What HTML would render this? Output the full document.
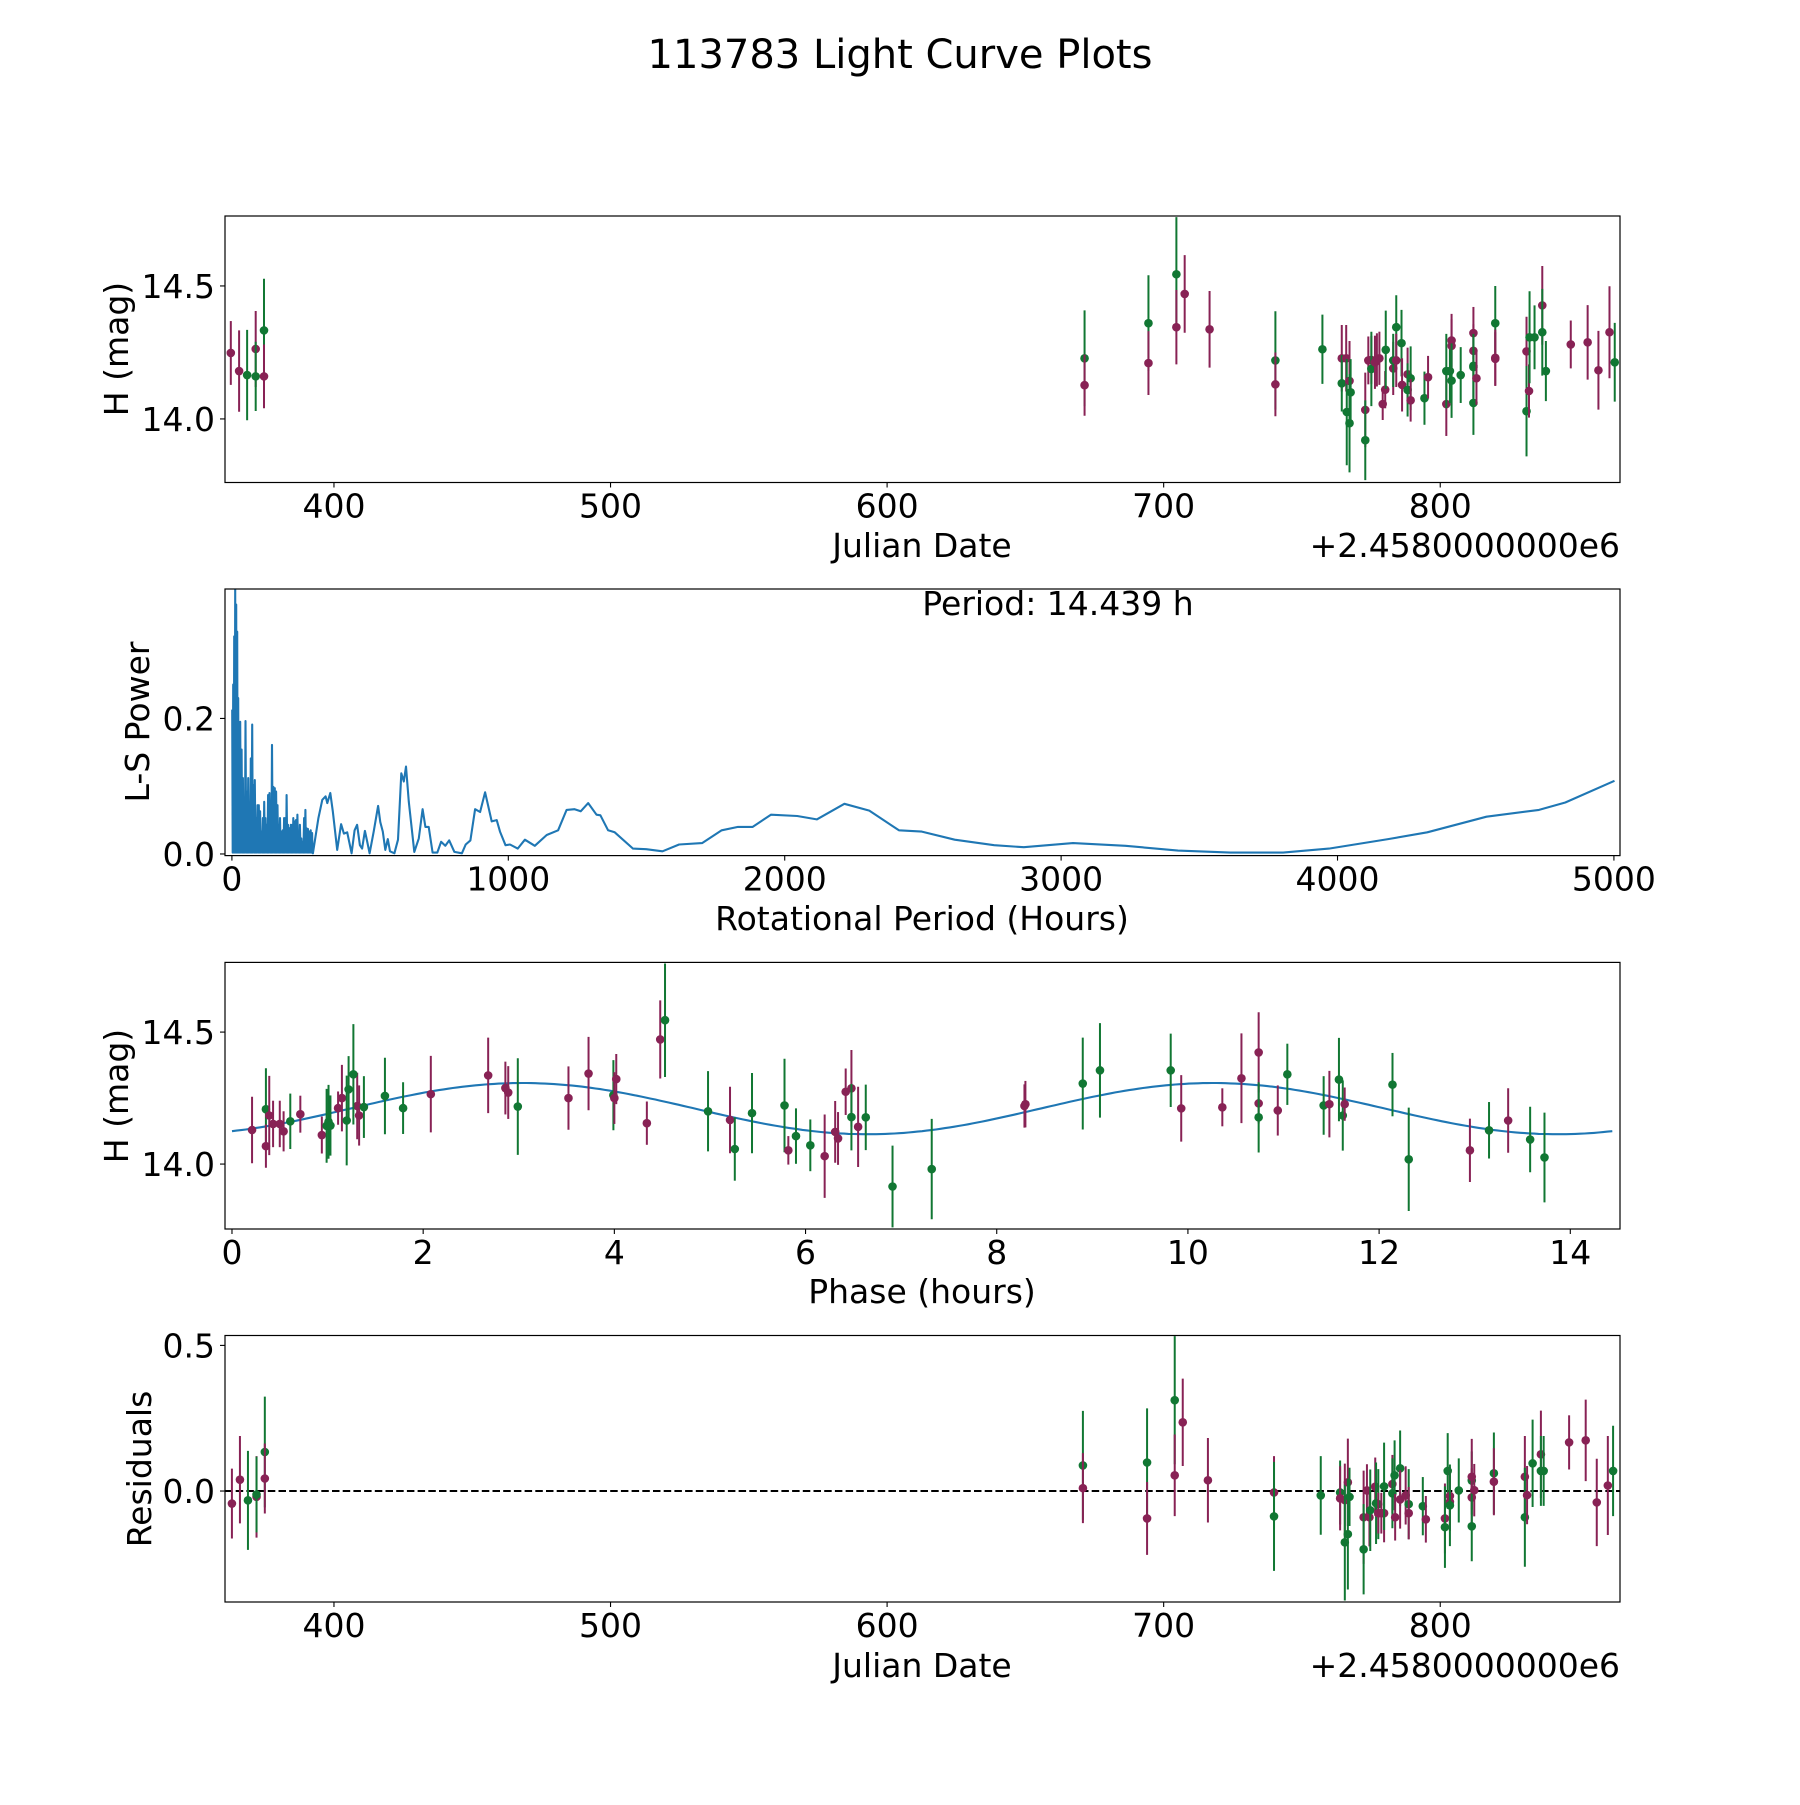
<!DOCTYPE html>
<html><head><meta charset="utf-8"><title>113783 Light Curve Plots</title>
<style>
html,body{margin:0;padding:0;background:#fff;}
svg text{font-family:"DejaVu Sans","Liberation Sans",sans-serif;fill:#000;}
</style></head>
<body>
<svg id="fig" xmlns="http://www.w3.org/2000/svg" width="1800" height="1800" viewBox="0 0 1800 1800">
<rect x="0" y="0" width="1800" height="1800" fill="#fff"/>
<text x="900" y="68" font-size="40" text-anchor="middle">113783 Light Curve Plots</text>
</svg>
<script>
// ---------- Panel 1: light curve (Julian Date) ----------
const lcDate = [362.7,365.7,368.6,371.7,371.7,374.7,374.7,671.4,671.4,694.5,694.5,704.6,704.6,707.6,716.6,740.4,740.4,757.4,764.4,764.4,766.0,766.2,767.2,767.2,767.6,772.9,772.9,774.0,775.1,775.1,776.4,777.1,778.0,779.2,780.1,780.3,783.0,783.0,784.1,784.1,786.0,786.2,788.2,788.2,789.3,789.3,794.3,795.6,802.2,802.2,803.5,804.1,804.1,804.1,807.4,812.0,812.0,812.0,812.0,812.0,813.1,819.9,819.9,819.9,831.2,831.2,832.1,832.3,834.1,836.9,836.9,838.2,847.2,853.3,857.2,861.2,863.1];
const lcMag = [14.248,14.18,14.165,14.263,14.16,14.333,14.16,14.228,14.127,14.36,14.21,14.544,14.345,14.47,14.337,14.22,14.13,14.262,14.228,14.134,14.228,14.026,14.143,13.984,14.1,14.034,13.92,14.22,14.222,14.188,14.213,14.222,14.228,14.056,14.11,14.26,14.19,14.22,14.345,14.22,14.285,14.128,14.168,14.109,14.153,14.07,14.078,14.157,14.056,14.18,14.18,14.295,14.275,14.144,14.165,14.323,14.256,14.2,14.195,14.06,14.153,14.36,14.23,14.226,14.254,14.029,14.105,14.307,14.307,14.427,14.326,14.18,14.28,14.288,14.183,14.326,14.213];
const lcErr = [0.12,0.153,0.17,0.143,0.13,0.194,0.12,0.18,0.115,0.18,0.12,0.215,0.14,0.146,0.144,0.185,0.12,0.13,0.125,0.106,0.125,0.2,0.15,0.185,0.125,0.14,0.15,0.09,0.09,0.14,0.1,0.1,0.1,0.06,0.07,0.147,0.1,0.1,0.12,0.1,0.125,0.1,0.1,0.1,0.12,0.08,0.1,0.08,0.12,0.14,0.12,0.1,0.1,0.14,0.105,0.098,0.1,0.12,0.12,0.12,0.1,0.14,0.106,0.1,0.13,0.17,0.1,0.173,0.12,0.148,0.163,0.113,0.09,0.14,0.148,0.173,0.148];
const lcBand = ["m","m","g","m","g","g","m","g","m","g","m","g","m","m","m","g","m","g","m","g","m","g","m","g","g","m","g","m","m","g","m","m","m","m","m","g","m","g","g","m","g","m","m","g","g","m","g","m","m","g","g","m","m","g","g","m","m","g","g","g","m","g","m","m","m","g","m","g","g","m","g","g","m","m","m","m","g"];

// ---------- Panel 2: Lomb-Scargle periodogram ----------
const lsSpikePeriod = [1.2,4.8,8.4,12,15.6,19.2,22.8,26.4,30,34.9,39.7,44.5,49.3,54.1,58.9,63.7,68.5,73.3,78.1,82.9,87.7,92.6,97.4,102,107,112,117,121,126,131,136,141,145,150,155,160,165,169,174,179,184,189,194,198,203,208,213,218,222,227,232,237,242,246,251,256,261,266,270,275,280,285,290];
const lsSpikePower = [0.213,0.25,0.321,0.391,0.368,0.328,0.23,0.161,0.195,0.154,0.112,0.082,0.196,0.092,0.112,0.053,0.141,0.191,0.102,0.109,0.053,0.072,0.072,0.063,0.033,0.053,0.077,0.053,0.043,0.087,0.09,0.063,0.161,0.099,0.097,0.092,0.072,0.043,0.053,0.033,0.035,0.053,0.053,0.087,0.043,0.038,0.043,0.043,0.053,0.048,0.05,0.058,0.033,0.043,0.023,0.018,0.053,0.065,0.038,0.037,0.033,0.035,0.031];
const lsPeriod = [293,313,327,339,345,356,365,381,395,405,417,433,444,453,463,471,481,489,498,513,529,537,546,555,564,572,588,601,613,622,630,640,660,676,690,700,712,726,743,757,772,786,805,832,846,863,880,898,916,940,958,970,990,1006,1034,1060,1096,1139,1180,1211,1240,1262,1289,1319,1333,1361,1385,1451,1499,1558,1618,1701,1772,1831,1884,1950,2045,2116,2216,2306,2413,2496,2615,2758,2865,3043,3233,3423,3613,3803,3969,4183,4325,4539,4729,4824,5002];
const lsPower = [0.001,0.053,0.08,0.085,0.075,0.09,0.063,0.006,0.044,0.03,0.032,0.001,0.035,0.043,0.013,0.008,0.034,0.019,0.001,0.033,0.071,0.047,0.033,0.006,0.022,0.004,0.001,0.021,0.119,0.107,0.129,0.077,0.003,0.023,0.066,0.04,0.04,0.002,0.002,0.018,0.012,0.02,0.003,0.001,0.014,0.02,0.066,0.062,0.091,0.048,0.05,0.033,0.013,0.014,0.008,0.021,0.012,0.028,0.035,0.065,0.066,0.063,0.075,0.058,0.057,0.035,0.032,0.008,0.007,0.004,0.014,0.016,0.035,0.04,0.04,0.058,0.056,0.051,0.074,0.064,0.035,0.033,0.021,0.013,0.01,0.016,0.012,0.005,0.002,0.002,0.008,0.022,0.032,0.055,0.065,0.076,0.108];
const bestPeriod = 14.439;

// ---------- Panel 3: phased light curve ----------
const phPhase = [0.21,0.355,0.355,0.39,0.43,0.5,0.54,0.61,0.715,0.94,0.99,1.01,1.03,1.11,1.15,1.2,1.22,1.31,1.33,1.27,1.38,1.6,1.79,2.08,2.68,2.86,2.89,2.99,3.52,3.73,3.99,4.0,4.02,4.34,4.48,4.53,4.98,5.21,5.26,5.44,5.78,5.82,5.9,6.05,6.2,6.31,6.34,6.42,6.48,6.48,6.55,6.63,6.91,7.32,8.3,8.29,8.9,9.08,9.82,9.93,10.36,10.56,10.74,10.74,10.74,10.94,11.04,11.42,11.48,11.58,11.62,11.64,12.14,12.31,12.95,13.15,13.35,13.58,13.73];
const phMag = [14.129,14.208,14.068,14.184,14.152,14.152,14.124,14.162,14.189,14.11,14.145,14.16,14.146,14.212,14.25,14.165,14.283,14.22,14.184,14.34,14.216,14.258,14.212,14.265,14.336,14.288,14.271,14.218,14.25,14.343,14.261,14.25,14.322,14.155,14.472,14.545,14.2,14.167,14.057,14.193,14.222,14.052,14.106,14.071,14.03,14.122,14.097,14.274,14.287,14.178,14.141,14.177,13.915,13.981,14.227,14.22,14.305,14.355,14.355,14.211,14.215,14.325,14.423,14.23,14.177,14.203,14.34,14.222,14.227,14.32,14.184,14.227,14.301,14.018,14.052,14.128,14.165,14.093,14.025];
const phErr = [0.126,0.155,0.082,0.15,0.088,0.088,0.076,0.105,0.07,0.07,0.14,0.14,0.114,0.063,0.126,0.17,0.126,0.126,0.114,0.19,0.117,0.145,0.098,0.145,0.143,0.1,0.1,0.183,0.12,0.139,0.133,0.098,0.095,0.082,0.148,0.215,0.152,0.126,0.12,0.152,0.177,0.054,0.105,0.098,0.158,0.117,0.1,0.088,0.145,0.126,0.152,0.124,0.155,0.19,0.088,0.082,0.174,0.179,0.139,0.126,0.072,0.17,0.152,0.076,0.133,0.095,0.116,0.111,0.126,0.158,0.133,0.063,0.12,0.196,0.12,0.107,0.122,0.124,0.17];
const phBand = ["m","g","m","m","m","m","m","g","m","m","g","g","g","m","m","g","g","m","m","g","g","g","g","m","m","m","m","g","m","m","g","m","m","m","m","g","g","m","g","g","g","m","g","g","m","m","m","m","m","g","m","g","g","g","m","m","g","g","g","m","m","m","m","m","g","m","g","g","m","g","g","m","g","g","m","g","m","g","g"];
const fitMean = 14.21;
const fitAmp = 0.097;
const fitPeakPhase = 3.04;

// ---------- Panel 4: residuals ----------
const resDate = [363.1,366,368.9,372,372,375,375,670.8,670.8,694,694,704,704,706.9,716,739.9,739.9,756.8,763.8,763.8,765.5,765.5,766.6,766.6,767.2,772.3,772.3,773.5,774.4,774.7,776.5,776.8,777.6,777.6,778.7,779.7,779.7,782.7,782.7,783.5,783.7,785.5,785.5,787.5,788.6,788.6,793.7,794.8,801.7,801.7,802.7,803.5,803.5,803.5,806.7,811.4,811.4,811.4,811.4,812.3,819.4,819.4,830.6,830.6,831.4,833.4,836.4,836.4,837.4,846.6,852.6,856.6,860.6,862.5];
const resVal = [-0.043,0.039,-0.032,-0.02,-0.012,0.134,0.043,0.088,0.010,0.098,-0.094,0.312,0.054,0.236,0.037,-0.005,-0.087,-0.015,-0.005,-0.025,-0.031,-0.176,0.03,-0.148,-0.02,-0.09,-0.2,0.002,-0.09,-0.066,0.015,-0.042,-0.045,-0.076,-0.076,-0.076,0.016,0.024,-0.008,0.054,-0.09,0.078,-0.029,-0.015,-0.045,-0.076,-0.052,-0.097,-0.094,-0.124,0.069,-0.017,-0.037,-0.049,0.002,0.036,0.049,-0.022,-0.121,0.003,0.061,0.032,0.049,-0.09,-0.014,0.095,0.126,0.069,0.069,0.167,0.174,-0.039,0.019,0.069];
const resErr = [0.12,0.15,0.17,0.14,0.13,0.19,0.12,0.187,0.12,0.186,0.125,0.22,0.14,0.15,0.145,0.125,0.187,0.135,0.11,0.11,0.125,0.2,0.15,0.19,0.1,0.16,0.155,0.09,0.1,0.14,0.1,0.14,0.12,0.07,0.07,0.1,0.15,0.1,0.12,0.12,0.08,0.13,0.1,0.1,0.12,0.09,0.1,0.08,0.12,0.14,0.13,0.1,0.1,0.14,0.11,0.1,0.13,0.1,0.12,0.09,0.14,0.115,0.14,0.17,0.1,0.15,0.15,0.12,0.12,0.093,0.14,0.15,0.17,0.155];
const resBand = ["m","m","g","m","g","g","m","g","m","g","m","g","m","m","m","m","g","g","g","m","m","g","m","g","g","m","g","m","m","g","m","g","g","m","m","m","g","m","g","g","m","g","m","m","g","m","g","m","m","g","g","m","m","g","g","g","m","m","g","m","g","m","m","g","m","g","m","g","g","m","m","m","m","g"];

// ---------- Axis ticks ----------
const jdTicks = [400,500,600,700,800];
const magTicks = [14.0,14.5];
const lsXTicks = [0,1000,2000,3000,4000,5000];
const lsYTicks = [0.0,0.2];
const phXTicks = [0,2,4,6,8,10,12,14];
const resYTicks = [0.0,0.5];

const NS = "http://www.w3.org/2000/svg";
const svg = document.getElementById("fig");
const COLORS = {m:"#882255", g:"#117733"};
const X0 = 225, X1 = 1620;
const FS = 33;

function mk(tag, attrs, parent){
  const e = document.createElementNS(NS, tag);
  for (const k in attrs) e.setAttribute(k, attrs[k]);
  (parent || svg).appendChild(e);
  return e;
}
function lin(d0,d1,r0,r1){ return v => r0 + (v-d0)*(r1-r0)/(d1-d0); }

function makeAxes(name, top, bottom, xmin, xmax, ymin, ymax, xticks, yticks, xfmt, yfmt){
  const g = mk("g", {});
  
  
  const sx = lin(xmin, xmax, X0, X1), sy = lin(ymin, ymax, bottom, top);
  const clipId = name + "-clip";
  const cp = mk("clipPath", {id: clipId}, g);
  mk("rect", {x:X0, y:top, width:X1-X0, height:bottom-top}, cp);
  const plot = mk("g", {"clip-path": "url(#"+clipId+")"}, g);
  
  
  const xt = mk("g", {}, g);
  
  
  xticks.forEach(v => {
    const x = sx(v);
    mk("line", {x1:x, x2:x, y1:bottom, y2:bottom+5, stroke:"#000", "stroke-width":1.1}, xt);
    const t = mk("text", {x:x, y:bottom+35, "font-size":FS, "text-anchor":"middle"}, xt);
    t.textContent = xfmt(v);
  });
  const yt = mk("g", {}, g);
  
  
  yticks.forEach(v => {
    const y = sy(v);
    mk("line", {x1:X0-5, x2:X0, y1:y, y2:y, stroke:"#000", "stroke-width":1.1}, yt);
    const t = mk("text", {x:X0-10, y:y+12, "font-size":FS, "text-anchor":"end"}, yt);
    t.textContent = yfmt(v);
  });
  const frame = mk("rect", {x:X0, y:top, width:X1-X0, height:bottom-top, fill:"none", stroke:"#000", "stroke-width":1.2}, g);
  
  
  return {g, plot, sx, sy, top, bottom};
}
function label(text, x, y, name, rot){
  const t = mk("text", {x:x, y:y, "font-size":FS, "text-anchor": "middle"});
  if (rot) t.setAttribute("transform", "rotate(-90 "+x+" "+y+")");
  
  
  t.textContent = text;
  return t;
}
function errorbars(ax, xs, ys, es, bands, name){
  const grp = mk("g", {}, ax.plot);
  
  
  for (let i=0;i<xs.length;i++){
    const c = COLORS[bands[i]];
    const x = ax.sx(xs[i]);
    const bar = mk("line", {x1:x, x2:x, y1:ax.sy(ys[i]-es[i]), y2:ax.sy(ys[i]+es[i]), stroke:c, "stroke-width":2}, grp);
    
    
    const p = mk("circle", {cx:x, cy:ax.sy(ys[i]), r:4.3, fill:c}, grp);
    
    
  }
}
const int0 = v => String(v);
const f1 = v => v.toFixed(1);

// Panel 1
const ax1 = makeAxes("lightcurve-axes", 216, 482.5, 360.6, 865, 13.761, 14.763, jdTicks, magTicks, int0, f1);
errorbars(ax1, lcDate, lcMag, lcErr, lcBand, "lightcurve");
label("H (mag)", 128, 349, "lightcurve-y-axis-title", true);
label("Julian Date", 922, 557, "lightcurve-x-axis-title");
{ const t = mk("text", {x:1620, y:557, "font-size":FS, "text-anchor":"end"});
  
  
  t.textContent = "+2.4580000000e6"; }

// Panel 2
const ax2 = makeAxes("periodogram-axes", 589, 855.6, -25, 5022, -0.0024, 0.391, lsXTicks, lsYTicks, int0, f1);
{
  let pts = [];
  for (let i=0;i<lsSpikePeriod.length;i++){
    pts.push([lsSpikePeriod[i], lsSpikePower[i]]);
    const next = i+1<lsSpikePeriod.length ? lsSpikePeriod[i+1] : lsPeriod[0];
    pts.push([(lsSpikePeriod[i]+next)/2, 0.002]);
  }
  for (let i=0;i<lsPeriod.length;i++) pts.push([lsPeriod[i], lsPower[i]]);
  const d = pts.map((p,i)=>(i?"L":"M")+ax2.sx(p[0]).toFixed(1)+" "+ax2.sy(p[1]).toFixed(1)).join(" ");
  const path = mk("path", {d:d, fill:"none", stroke:"#1f77b4", "stroke-width":2.1, "stroke-linejoin":"round"}, ax2.plot);
  
  
}
{ const t = mk("text", {x:1058, y:615, "font-size":FS, "text-anchor":"middle"});
  
  
  t.textContent = "Period: " + bestPeriod.toFixed(3) + " h"; }
label("L-S Power", 149, 722, "periodogram-y-axis-title", true);
label("Rotational Period (Hours)", 922, 930, "periodogram-x-axis-title");

// Panel 3
const ax3 = makeAxes("phase-axes", 962.4, 1229, -0.073, 14.52, 13.754, 14.764, phXTicks, magTicks, int0, f1);
{
  let d = "";
  for (let i=0;i<=300;i++){
    const ph = bestPeriod*i/300;
    const m = fitMean + fitAmp*Math.cos(4*Math.PI*(ph-fitPeakPhase)/bestPeriod);
    d += (i?"L":"M") + ax3.sx(ph).toFixed(1) + " " + ax3.sy(m).toFixed(1) + " ";
  }
  const path = mk("path", {d:d, fill:"none", stroke:"#1f77b4", "stroke-width":2.1}, ax3.plot);
  
  
}
errorbars(ax3, phPhase, phMag, phErr, phBand, "phase");
label("H (mag)", 128, 1096, "phase-y-axis-title", true);
label("Phase (hours)", 922, 1303, "phase-x-axis-title");

// Panel 4
const ax4 = makeAxes("residuals-axes", 1335.5, 1602, 360.6, 865, -0.381, 0.534, jdTicks, resYTicks, int0, f1);
{ const z = ax4.sy(0);
  const l = mk("line", {x1:X0, x2:X1, y1:z, y2:z, stroke:"#000", "stroke-width":2, "stroke-dasharray":"7.5 3.2"}, ax4.plot);
  
   }
errorbars(ax4, resDate, resVal, resErr, resBand, "residuals");
label("Residuals", 151, 1469, "residuals-y-axis-title", true);
label("Julian Date", 922, 1677, "residuals-x-axis-title");
{ const t = mk("text", {x:1620, y:1677, "font-size":FS, "text-anchor":"end"});
  
  
  t.textContent = "+2.4580000000e6"; }
</script>
</body></html>
